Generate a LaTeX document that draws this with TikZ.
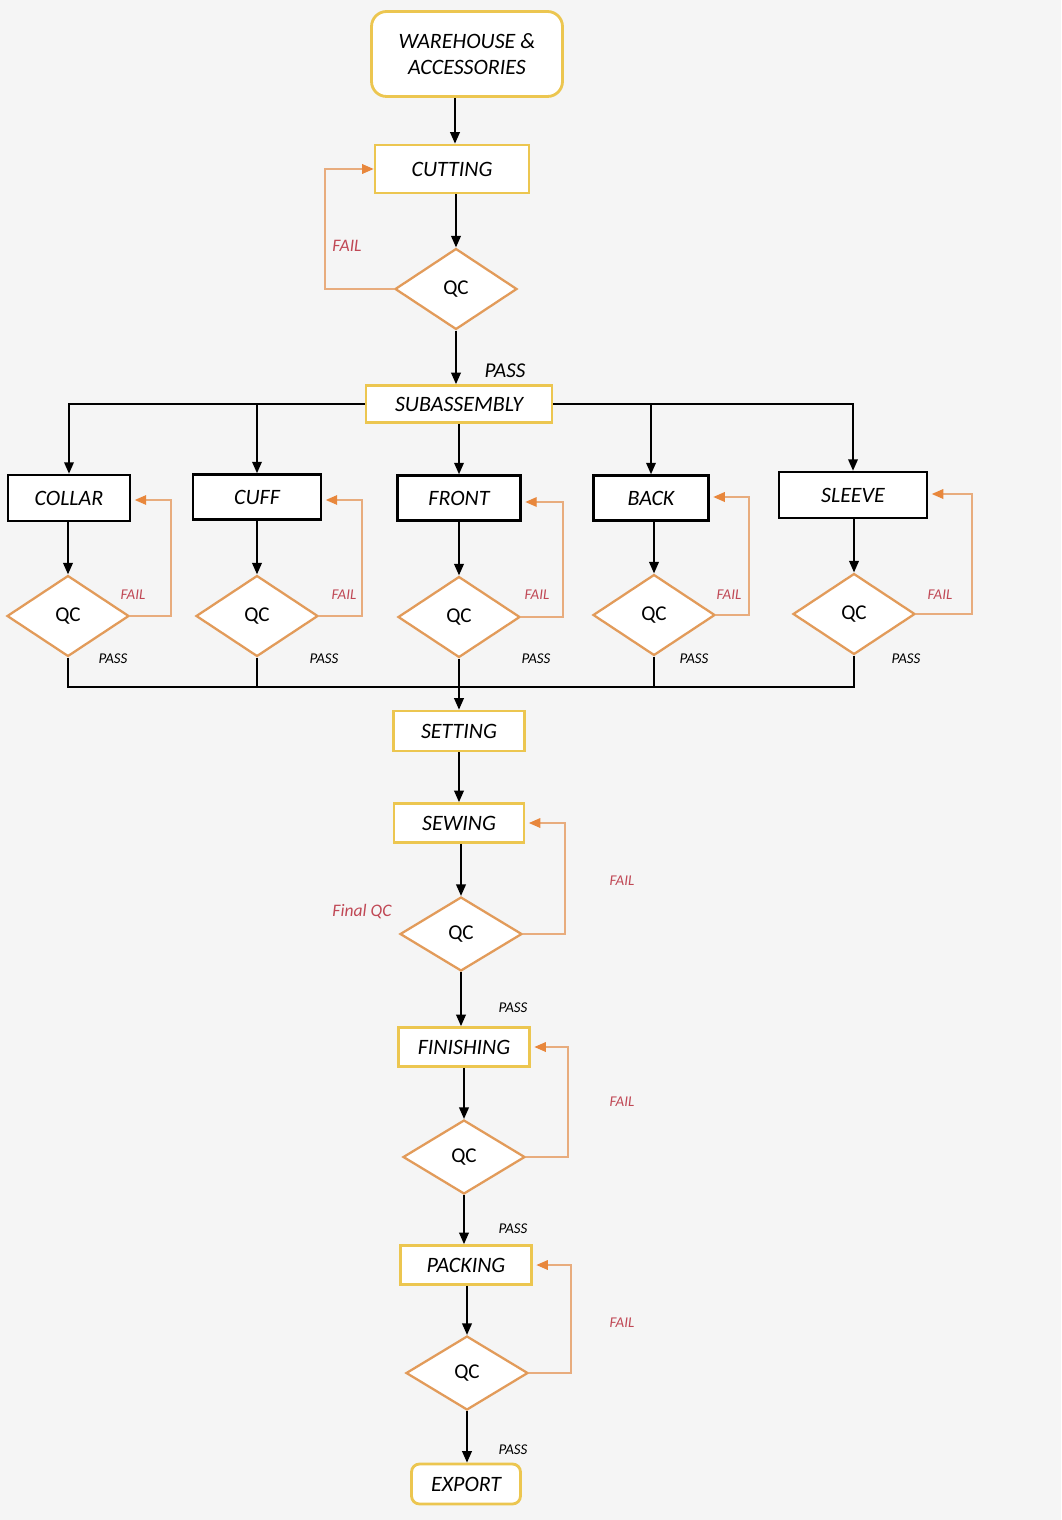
\documentclass[tikz,border=0pt]{standalone}
\usepackage{fontspec}
\setmainfont{Carlito}
\usetikzlibrary{shapes.geometric,arrows.meta}
\definecolor{bgc}{RGB}{245,245,245}
\definecolor{ybord}{RGB}{236,198,80}
\definecolor{obord}{RGB}{226,155,90}
\definecolor{oline}{RGB}{232,172,125}
\definecolor{otip}{RGB}{232,135,60}
\definecolor{failc}{RGB}{192,72,85}
\tikzset{
  ybox/.style={draw=ybord, line width=1.6pt, fill=white, inner sep=0pt, font=\fontsize{12.5}{15}\selectfont\itshape},
  bbox/.style={draw=black, line width=1.5pt, fill=white, inner sep=0pt, font=\fontsize{12.5}{15}\selectfont\itshape},
  qc/.style={diamond, draw=obord, line width=1.3pt, fill=white, inner sep=0pt, minimum width=2.44cm, minimum height=1.62cm, font=\fontsize{12}{14}\selectfont},
  qcs/.style={qc, minimum height=1.48cm},
  arr/.style={draw=black, line width=0.85pt, -{Triangle[width=5.5pt,length=6.5pt]}},
  bline/.style={draw=black, line width=0.85pt},
  farr/.style={draw=oline, line width=0.7pt, -{Triangle[width=5.5pt,length=6.5pt,color=otip]}},
  faillbl/.style={text=failc, font=\fontsize{8.5}{10}\selectfont\itshape},
  passlbl/.style={text=black, font=\fontsize{8.5}{10}\selectfont\itshape},
}
\begin{document}
\begin{tikzpicture}[x=0.02cm,y=-0.02cm]
\fill[bgc] (0,0) rectangle (1061,1520);
\useasboundingbox (0,0) rectangle (1061,1520);

% top chain
\node[ybox, rounded corners=0.3cm, minimum width=3.82cm, minimum height=1.7cm, align=center] (wh) at (467,54) {WAREHOUSE \&\\ACCESSORIES};
\node[ybox, minimum width=3.08cm, minimum height=0.96cm] (cut) at (452,169) {CUTTING};
\node[qc] (qc0) at (456,289) {QC};
\node[ybox, minimum width=3.72cm, minimum height=0.74cm] (sub) at (459,404) {SUBASSEMBLY};

\draw[arr] (wh.south -| 455,0) -- (cut.north -| 455,0);
\draw[arr] (cut.south -| qc0.north) -- (qc0.north);
\draw[arr] (qc0.south) -- (qc0.south |- sub.north);
\coordinate (f0) at (325,289);
\draw[farr] (qc0.west) -- (f0) |- (cut.west);
\node[text=failc, font=\fontsize{10}{12}\selectfont\itshape] (fl0) at (347,246) {FAIL};
\node[font=\fontsize{12}{14}\selectfont\itshape] (pl0) at (505,371) {PASS};

% sub-assembly row
\node[bbox, minimum width=2.44cm, minimum height=0.92cm] (collar) at (69,498) {COLLAR};
\node[bbox, minimum width=2.56cm, minimum height=0.9cm] (cuff) at (257,497) {CUFF};
\node[bbox, minimum width=2.46cm, minimum height=0.9cm] (front) at (459,498) {FRONT};
\node[bbox, minimum width=2.3cm, minimum height=0.9cm] (back) at (651,498) {BACK};
\node[bbox, minimum width=2.96cm, minimum height=0.92cm] (sleeve) at (853,495) {SLEEVE};

\node[qc] (qa) at (68,616) {QC};
\node[qc] (qb) at (257,616) {QC};
\node[qc] (qcc) at (459,617) {QC};
\node[qc] (qd) at (654,615) {QC};
\node[qc] (qe) at (854,614) {QC};

\draw[arr] (sub.west) -| (collar.north);
\draw[arr] (sub.east) -| (sleeve.north);
\draw[arr] (sub.west -| cuff.north) -- (cuff.north);
\draw[arr] (sub.south -| front.north) -- (front.north);
\draw[arr] (sub.east -| back.north) -- (back.north);

\draw[arr] (collar.south -| qa.north) -- (qa.north);
\draw[arr] (cuff.south -| qb.north) -- (qb.north);
\draw[arr] (front.south -| qcc.north) -- (qcc.north);
\draw[arr] (back.south -| qd.north) -- (qd.north);
\draw[arr] (sleeve.south -| qe.north) -- (qe.north);

\coordinate (fa) at (171,616);
\coordinate (fb) at (362,616);
\coordinate (fc) at (563,617);
\coordinate (fd) at (749,615);
\coordinate (fe) at (972,614);
\draw[farr] (qa.east) -- (fa) -- (fa |- 0,500) -- ([xshift=2pt]collar.east |- 0,500);
\draw[farr] (qb.east) -- (fb) -- (fb |- 0,500) -- ([xshift=2pt]cuff.east |- 0,500);
\draw[farr] (qcc.east) -- (fc) -- (fc |- 0,502) -- ([xshift=2pt]front.east |- 0,502);
\draw[farr] (qd.east) -- (fd) -- (fd |- 0,497) -- ([xshift=2pt]back.east |- 0,497);
\draw[farr] (qe.east) -- (fe) -- (fe |- 0,494) -- ([xshift=2pt]sleeve.east |- 0,494);

\node[faillbl] (fla) at (133,595) {FAIL};
\node[faillbl] (flb) at (344,595) {FAIL};
\node[faillbl] (flc) at (537,595) {FAIL};
\node[faillbl] (fld) at (729,595) {FAIL};
\node[faillbl] (fle) at (940,595) {FAIL};
\node[passlbl] (pla) at (113,659) {PASS};
\node[passlbl] (plb) at (324,659) {PASS};
\node[passlbl] (plc) at (536,659) {PASS};
\node[passlbl] (pld) at (694,659) {PASS};
\node[passlbl] (ple) at (906,659) {PASS};

% merge bus
\coordinate (bus) at (459,687);
\draw[bline] (qa.south) |- (bus);
\draw[bline] (qe.south) |- (bus);
\draw[bline] (qb.south) -- (qb.south |- bus);
\draw[bline] (qd.south) -- (qd.south |- bus);

% lower chain
\node[ybox, minimum width=2.62cm, minimum height=0.8cm] (set) at (459,731) {SETTING};
\node[ybox, minimum width=2.6cm, minimum height=0.78cm] (sew) at (459,823) {SEWING};
\node[qcs] (q6) at (461,934) {QC};
\node[ybox, minimum width=2.62cm, minimum height=0.78cm] (fin) at (464,1047) {FINISHING};
\node[qcs] (q7) at (464,1157) {QC};
\node[ybox, minimum width=2.62cm, minimum height=0.78cm] (pack) at (466,1265) {PACKING};
\node[qcs] (q8) at (467,1373) {QC};
\node[ybox, rounded corners=0.16cm, minimum width=2.18cm, minimum height=0.8cm] (exp) at (466,1484) {EXPORT};

\draw[arr] (qcc.south) -- (set.north);
\draw[arr] (set.south) -- (sew.north);
\draw[arr] (sew.south -| q6.north) -- (q6.north);
\draw[arr] (q6.south) -- (q6.south |- fin.north);
\draw[arr] (fin.south -| q7.north) -- (q7.north);
\draw[arr] (q7.south) -- (q7.south |- pack.north);
\draw[arr] (pack.south -| q8.north) -- (q8.north);
\draw[arr] (q8.south) -- (q8.south |- exp.north);

\coordinate (f6) at (565,934);
\coordinate (f7) at (568,1157);
\coordinate (f8) at (571,1373);
\draw[farr] (q6.east) -- (f6) |- ([xshift=2pt]sew.east);
\draw[farr] (q7.east) -- (f7) |- ([xshift=2pt]fin.east);
\draw[farr] (q8.east) -- (f8) |- ([xshift=2pt]pack.east);

\node[faillbl] (fl6) at (622,881) {FAIL};
\node[faillbl] (fl7) at (622,1102) {FAIL};
\node[faillbl] (fl8) at (622,1323) {FAIL};
\node[text=failc, font=\fontsize{10}{12}\selectfont\itshape] (fqc) at (362,912) {Final QC};
\node[passlbl] (pl6) at (513,1008) {PASS};
\node[passlbl] (pl7) at (513,1229) {PASS};
\node[passlbl] (pl8) at (513,1450) {PASS};
\end{tikzpicture}
\end{document}
